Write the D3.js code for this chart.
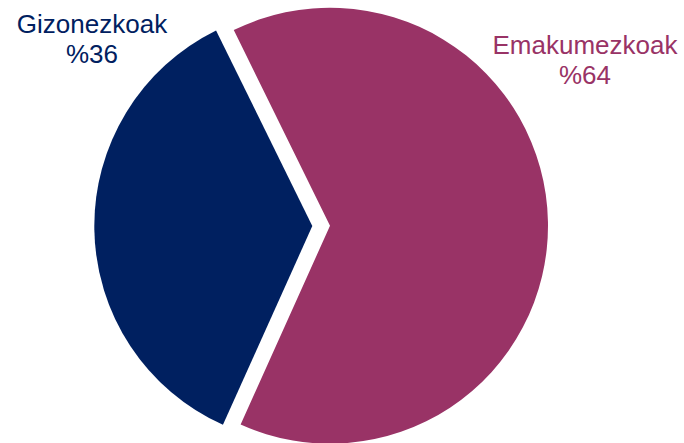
<!DOCTYPE html>
<html>
<head>
<meta charset="utf-8">
<script src="https://cdn.jsdelivr.net/npm/d3@7/dist/d3.min.js"></script>
<style>
  html, body { margin: 0; padding: 0; background: #fff; }
  svg { display: block; }
  text { font-family: "Liberation Sans", Arial, sans-serif; }
</style>
</head>
<body>
<svg id="chart" width="684" height="443"></svg>
<script>
// Gender split
const categories = ["Emakumezkoak", "Gizonezkoak"];
const shares = [64, 36];
const shareLabels = ["%64", "%36"];
const colors = ["#993366", "#002060"];
const exploded = [false, true];

const svg = d3.select("#chart");
const cx = 330, cy = 225.7, radius = 218;
const explodeDist = 17.7;

const pie = d3.pie()
  .sort(null)
  .value(d => d.value)
  .startAngle(-26.2 * Math.PI / 180)
  .endAngle((360 - 26.2) * Math.PI / 180);

const data = categories.map((c, i) => ({ name: c, value: shares[i], label: shareLabels[i], color: colors[i], explode: exploded[i] }));
const arcs = pie(data);
const arc = d3.arc().innerRadius(0).outerRadius(radius);

const g = svg.append("g").attr("transform", `translate(${cx},${cy})`);

g.selectAll("path")
  .data(arcs)
  .join("path")
  .attr("d", arc)
  .attr("fill", d => d.data.color)
  .attr("transform", d => {
    if (!d.data.explode) return null;
    const mid = (d.startAngle + d.endAngle) / 2;
    return `translate(${Math.sin(mid) * explodeDist},${-Math.cos(mid) * explodeDist})`;
  });

// Category labels placed outside the pie
const labelPos = { "Emakumezkoak": [585, 54.3], "Gizonezkoak": [92, 33.3] };
const lineGap = 29.6;

arcs.forEach(d => {
  const [x, y] = labelPos[d.data.name];
  const t = svg.append("text")
    .attr("x", x).attr("y", y)
    .attr("text-anchor", "middle")
    .attr("font-size", 26)
    .attr("fill", d.data.color);
  t.append("tspan").attr("x", x).attr("y", y).text(d.data.name);
  t.append("tspan").attr("x", x).attr("y", y + lineGap).text(d.data.label);
});
</script>
</body>
</html>
